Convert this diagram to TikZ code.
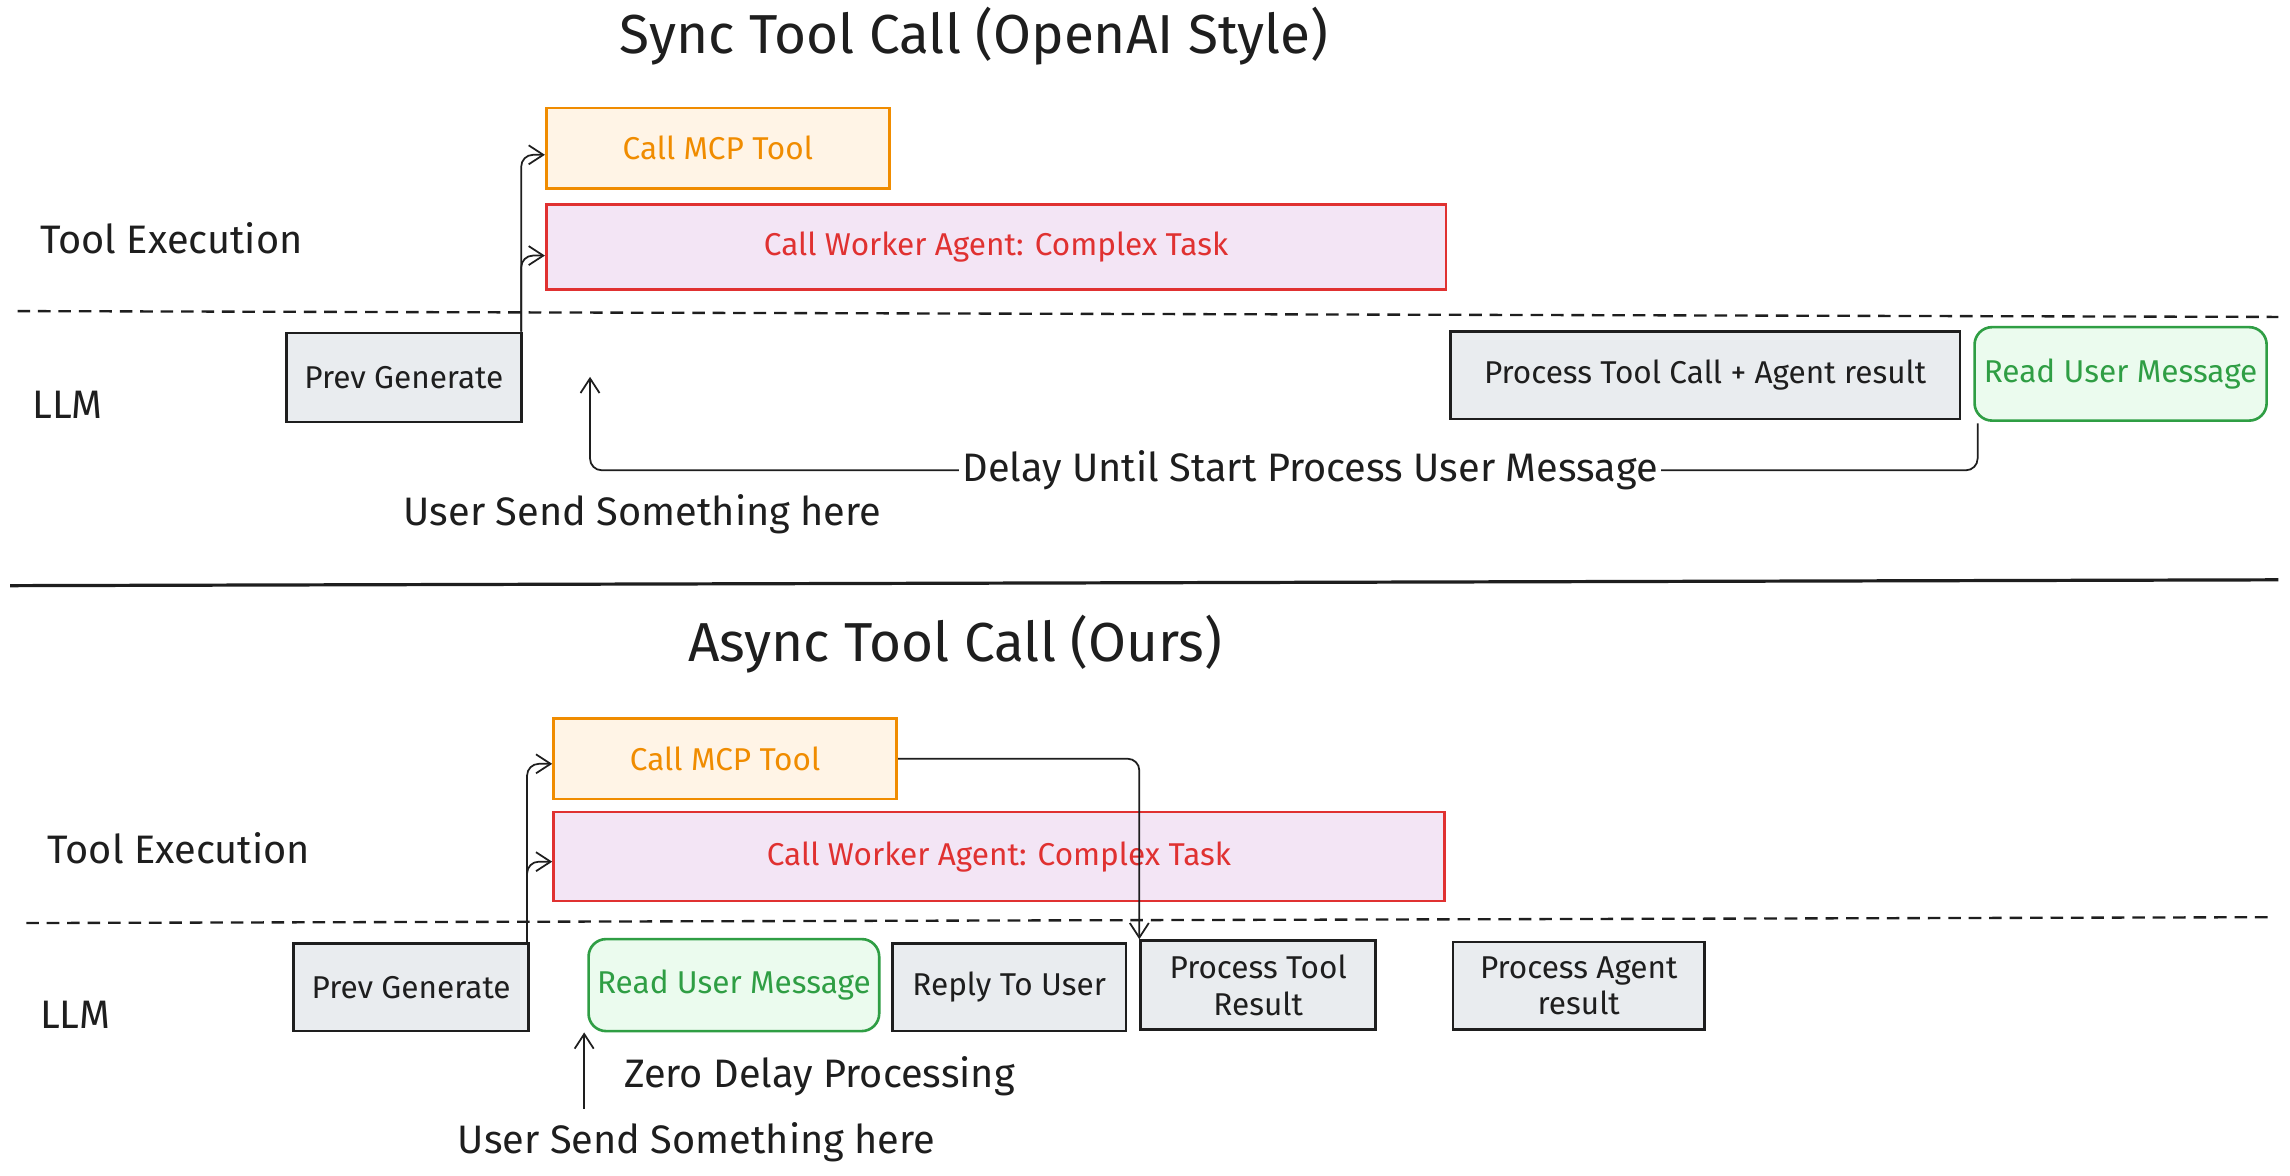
\documentclass[tikz,border=0pt]{standalone}
\usepackage{fontspec}
\setmainfont{Fira Sans}
\usetikzlibrary{arrows.meta,calc}
\definecolor{ink}{HTML}{1E1E1E}
\definecolor{orstroke}{HTML}{F08C00}
\definecolor{orfill}{HTML}{FFF4E6}
\definecolor{rdstroke}{HTML}{E03131}
\definecolor{rdfill}{HTML}{F3E5F5}
\definecolor{grfill}{HTML}{E9ECEF}
\definecolor{gnstroke}{HTML}{2F9E44}
\definecolor{gnfill}{HTML}{EBFBEE}
\begin{document}
\begin{tikzpicture}[x=0.5pt,y=-0.5pt,
  boxbase/.style={draw, line width=0.9pt, inner sep=2pt, align=center, font=\fontsize{10.8}{12.5}\selectfont},
  graybox/.style={boxbase, draw=ink, fill=grfill, text=ink},
  orbox/.style={boxbase, draw=orstroke, fill=orfill, text=orstroke},
  redbox/.style={boxbase, draw=rdstroke, fill=rdfill, text=rdstroke},
  greenbox/.style={boxbase, draw=gnstroke, fill=gnfill, text=gnstroke, rounded corners=6pt},
  lbl/.style={text=ink, inner sep=1pt, font=\fontsize{13.6}{16}\selectfont},
  ttl/.style={text=ink, inner sep=0pt, font=\fontsize{18.8}{22}\selectfont},
  arr/.style={draw=ink, line width=0.6pt, rounded corners=4pt, -{Straight Barb[length=5pt,width=6.5pt]}},
  plainln/.style={draw=ink, line width=0.6pt, rounded corners=4pt},
  dashln/.style={draw=ink, line width=0.8pt, dash pattern=on 4.3pt off 2.7pt},
  sepln/.style={draw=ink, line width=1.1pt},
]
\useasboundingbox (0,0) rectangle (1568,805);
\fill[white] (0,0) rectangle (1568,805);

% separators
\draw[dashln] (12,213) -- (1560,217);
\draw[dashln] (18,632) -- (1555,628);
\draw[sepln] (7,401) -- (1560,397);

% titles and lane labels
\node[ttl] (t1) at (667,25) {Sync Tool Call (OpenAI Style)};
\node[ttl] (t2) at (654,441) {Async Tool Call (Ours)};
\node[lbl, anchor=west] (te1) at (25,163) {Tool Execution};
\node[lbl, anchor=west] (llm1) at (20,277) {LLM};
\node[lbl, anchor=west] (te2) at (30,581) {Tool Execution};
\node[lbl, anchor=west] (llm2) at (25,695) {LLM};

% top section boxes
\node[orbox, minimum width=117.5pt, minimum height=27.5pt] (mcp1) at (491.5,101.5) {Call MCP Tool};
\node[redbox, minimum width=308pt, minimum height=29pt] (wk1) at (682,169) {Call Worker Agent: Complex Task};
\node[graybox, minimum width=80.5pt, minimum height=30.5pt] (pg1) at (276.5,258.5) {Prev Generate};
\node[graybox, minimum width=174.5pt, minimum height=30pt] (ptc1) at (1167.5,257) {Process Tool Call + Agent result};
\node[greenbox, minimum width=100pt, minimum height=32pt] (rum1) at (1452,256) {Read User Message};

% bottom section boxes
\node[orbox, minimum width=117.5pt, minimum height=27.5pt] (mcp2) at (496.5,519.5) {Call MCP Tool};
\node[redbox, minimum width=305pt, minimum height=30.5pt] (wk2) at (684,586.5) {Call Worker Agent: Complex Task};
\node[graybox, minimum width=80.5pt, minimum height=30pt] (pg2) at (281.5,676) {Prev Generate};
\node[greenbox, minimum width=99.5pt, minimum height=31.5pt] (rum2) at (502.5,674.5) {Read User Message};
\node[graybox, minimum width=80pt, minimum height=30pt] (rtu) at (691,676) {Reply To User};
\node[graybox, minimum width=80.5pt, minimum height=30.5pt] (ptr) at (861.5,674.5) {Process Tool\\Result};
\node[graybox, minimum width=86pt, minimum height=30pt] (par) at (1081,675) {Process Agent\\result};

% other labels
\node[lbl, fill=white] (dl) at (897,322) {Delay Until Start Process User Message};
\node[lbl] (us1) at (440,352) {User Send Something here};
\node[lbl, anchor=west] (zd) at (425,737) {Zero Delay Processing};
\node[lbl] (us2) at (477,782) {User Send Something here};

% free ends
\coordinate (tip1) at (404,258);
\coordinate (zt) at (400,759);

% top connectors
\draw[arr] ($(pg1.north east)+(-1,0)$) |- ($(mcp1.west)+(0,4.5)$);
\draw[arr] ($(pg1.north east)+(-1,0)$) |- ($(wk1.west)+(0,6)$);
\draw[plainln] ($(rum1.south west)+(3,1)$) |- (dl.east);
\draw[arr] (dl.west) -| (tip1);

% bottom connectors
\draw[arr] ($(pg2.north east)+(-2,0)$) |- ($(mcp2.west)+(0,3.5)$);
\draw[arr] ($(pg2.north east)+(-2,0)$) |- ($(wk2.west)+(0,3.5)$);
\draw[arr] (mcp2.east) -| (ptr.north west);
\draw[arr] (zt) -- (zt |- rum2.south);
\end{tikzpicture}
\end{document}
